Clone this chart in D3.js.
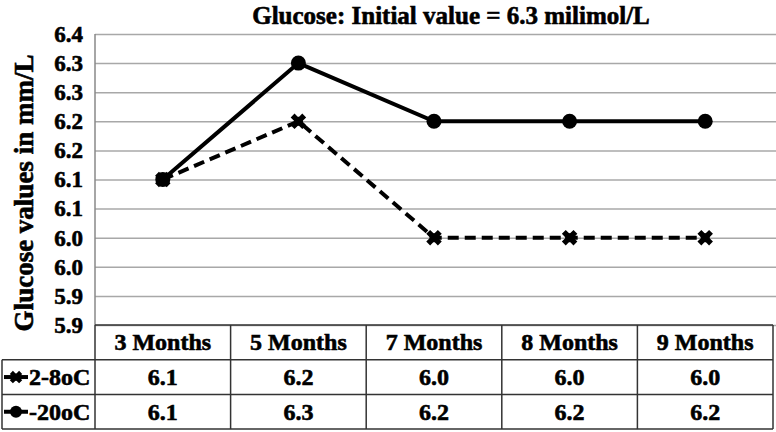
<!DOCTYPE html>
<html>
<head>
<meta charset="utf-8">
<script src="https://cdn.jsdelivr.net/npm/d3@7"></script>
<style>
  body { margin: 0; background: #fff; }
  svg text { font-family: "Times New Roman", "Liberation Serif", Times, "DejaVu Serif", serif; font-weight: bold; fill: #000; stroke: #000; stroke-width: 0.6px; }
</style>
</head>
<body>
<svg id="chart" width="776" height="432"></svg>
<script>
const categories = ['3 Months', '5 Months', '7 Months', '8 Months', '9 Months'];
const cold = [6.1, 6.2, 6.0, 6.0, 6.0];     // 2-8oC
const frozen = [6.1, 6.3, 6.2, 6.2, 6.2];   // -20oC
const tickValues = [5.85, 5.90, 5.95, 6.00, 6.05, 6.10, 6.15, 6.20, 6.25, 6.30, 6.35];
const tickLabels = ['5.9', '5.9', '6.0', '6.0', '6.1', '6.1', '6.2', '6.2', '6.3', '6.3', '6.4'];

const series = [
    { name: '2-8oC', values: cold, dash: '11,6', marker: 'x' },
    { name: '-20oC', values: frozen, dash: null, marker: 'o' }
];

const svg = d3.select('#chart');

const plotLeft = 95, plotRight = 773, plotTop = 34, plotBottom = 325;
const rowH = 34.7;

const x = d3.scaleBand()
    .domain(categories)
    .range([plotLeft, plotRight])
    .padding(0);

const y = d3.scaleLinear()
    .domain([5.85, 6.35])
    .range([plotBottom, plotTop]);

// grid
const grid = svg.append('g')
    .attr('transform', `translate(${plotLeft},0)`)
    .call(d3.axisLeft(y)
        .tickValues(tickValues)
        .tickSize(-(776 - plotLeft))
        .tickFormat((d, i) => tickLabels[i]));
grid.attr('font-family', null).attr('font-size', 23);
grid.select('.domain').remove();
grid.selectAll('.tick line')
    .attr('stroke', '#a8a8a8')
    .attr('stroke-width', 1.5);
grid.selectAll('.tick text')
    .attr('x', -12);

svg.append('line')
    .attr('x1', plotLeft).attr('x2', plotLeft)
    .attr('y1', plotTop).attr('y2', plotBottom)
    .attr('stroke', '#888').attr('stroke-width', 1.5);

// title + y label
svg.append('text')
    .attr('x', 451).attr('y', 24)
    .attr('text-anchor', 'middle')
    .attr('font-size', 25)
    .text('Glucose: Initial value = 6.3 milimol/L');

svg.append('text')
    .attr('transform', 'translate(33,193) rotate(-90)')
    .attr('text-anchor', 'middle')
    .attr('font-size', 27)
    .text('Glucose values in mm/L');

// lines
const cx = (d, i) => x(categories[i]) + x.bandwidth() / 2;
const line = d3.line()
    .x(cx)
    .y(d => y(d));

const xMark = d3.symbol().type(d3.symbolCross).size(150);

function drawMarker(g, type) {
    if (type === 'o') {
        g.append('circle').attr('r', 7.5).attr('fill', '#000');
    } else {
        g.append('path').attr('d', xMark()).attr('transform', 'rotate(45)').attr('fill', '#000');
        g.append('circle').attr('r', 4.5).attr('fill', '#000');
    }
}

series.forEach(s => {
    svg.append('path')
        .datum(s.values)
        .attr('d', line)
        .attr('fill', 'none')
        .attr('stroke', '#000')
        .attr('stroke-width', 4)
        .attr('stroke-dasharray', s.dash);
    svg.selectAll(null)
        .data(s.values)
        .enter()
        .append('g')
        .attr('transform', (d, i) => `translate(${cx(d, i)},${y(d)})`)
        .each(function () { drawMarker(d3.select(this), s.marker); });
});

// data table
const table = svg.append('g')
    .attr('font-size', 24);
function hline(x1, x2, yy) {
    table.append('line').attr('x1', x1).attr('x2', x2).attr('y1', yy).attr('y2', yy)
        .attr('stroke', '#333').attr('stroke-width', 1.5);
}
function vline(xx, y1, y2) {
    table.append('line').attr('x1', xx).attr('x2', xx).attr('y1', y1).attr('y2', y2)
        .attr('stroke', '#333').attr('stroke-width', 1.5);
}
hline(plotLeft, plotRight, plotBottom);
for (let r = 1; r <= 3; r++) hline(2, plotRight, plotBottom + r * rowH);
vline(2, plotBottom + rowH, plotBottom + 3 * rowH);
categories.forEach(c => vline(x(c), plotBottom, plotBottom + 3 * rowH));
vline(plotRight, plotBottom, plotBottom + 3 * rowH);

table.selectAll('.head')
    .data(categories)
    .enter()
    .append('text')
    .attr('x', d => x(d) + x.bandwidth() / 2)
    .attr('y', plotBottom + rowH / 2 + 8)
    .attr('text-anchor', 'middle')
    .text(d => d);

series.forEach((s, r) => {
    const yy = plotBottom + (r + 1) * rowH + rowH / 2;
    table.selectAll(null)
        .data(s.values)
        .enter()
        .append('text')
        .attr('x', (d, i) => cx(d, i))
        .attr('y', yy + 8)
        .attr('text-anchor', 'middle')
        .text(d => d3.format('.1f')(d));

    const key = table.append('g').attr('transform', `translate(4,${yy})`);
    key.append('line')
        .attr('x1', 0).attr('x2', 24)
        .attr('stroke', '#000').attr('stroke-width', 4);
    drawMarker(key.append('g').attr('transform', 'translate(12,0) scale(0.8)'), s.marker);
    key.append('text')
        .attr('x', 25).attr('y', 8)
        .text(s.name);
});
</script>
</body>
</html>
